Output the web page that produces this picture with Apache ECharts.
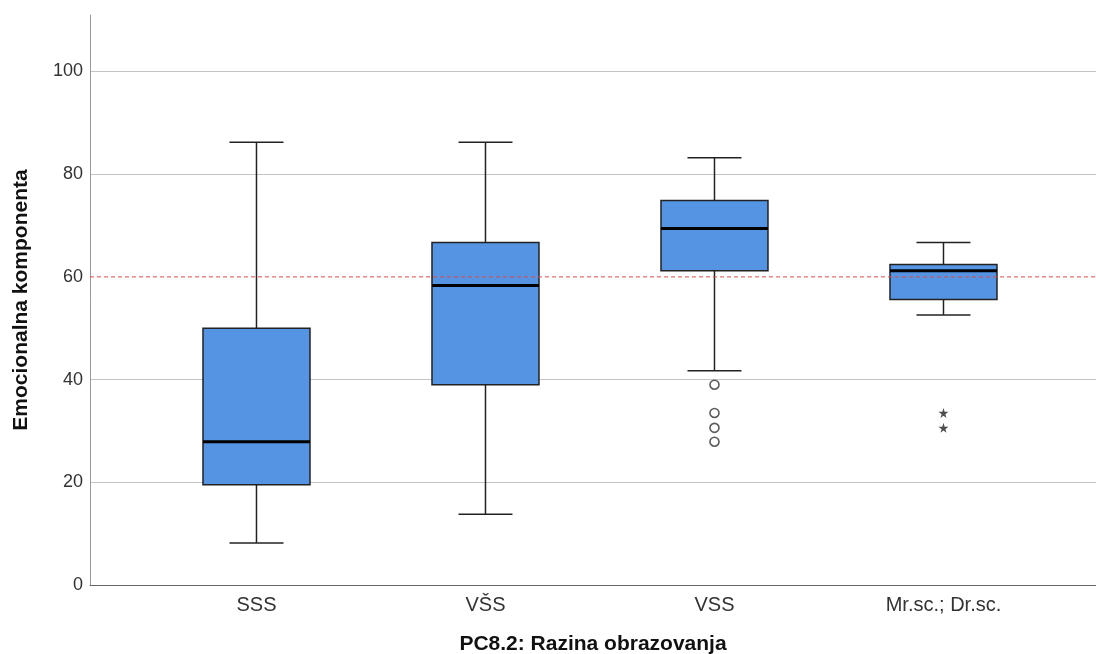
<!DOCTYPE html>
<html><head><meta charset="utf-8">
<script src="https://cdn.jsdelivr.net/npm/echarts@6/dist/echarts.min.js"></script>
<style>html,body{margin:0;padding:0;background:#fff}#c{width:1096px;height:654px}</style>
</head><body><div id="c"></div>
<script>
const categories = ['SSS', 'VŠS', 'VSS', 'Mr.sc.; Dr.sc.'];
// [min, Q1, median, Q3, max]
const boxStats = [
  [8.2, 19.5, 27.9, 50.0, 86.2],
  [13.8, 39.0, 58.3, 66.7, 86.2],
  [41.7, 61.2, 69.4, 74.9, 83.2],
  [52.6, 55.6, 61.2, 62.4, 66.7]
];
const outliers = [[2, 39.0], [2, 33.5], [2, 30.6], [2, 27.9]];
const extremes = [[3, 33.5], [3, 30.6]];
const referenceValue = 60;
const yTicks = [0, 20, 40, 60, 80, 100];

const X_MIN = -0.727, X_MAX = 3.666;
const boxData = boxStats.map((s, i) => [i].concat(s));
const star = 'path://M50,0 L61,35 L98,35 L68,57 L79,91 L50,70 L21,91 L32,57 L2,35 L39,35 Z';
const gridCol = '#c4c4c4';
const none = 'rgba(0,0,0,0)';

const chart = echarts.init(document.getElementById('c'));
chart.setOption({
  animation: false,
  backgroundColor: '#fff',
  grid: { left: 90, right: 0, top: 15, bottom: 69, outerBoundsMode: 'none', containLabel: false },
  xAxis: {
    type: 'value', min: X_MIN, max: X_MAX,
    name: 'PC8.2: Razina obrazovanja', nameLocation: 'middle', nameGap: 49,
    nameTextStyle: { fontFamily: 'Liberation Sans', fontSize: 21, fontWeight: 'bold', color: '#111' },
    axisLine: { show: true, onZero: false, lineStyle: { color: '#666', width: 1 } },
    axisTick: { show: false },
    splitLine: { show: false },
    axisLabel: {
      customValues: [0, 1, 2, 3],
      formatter: v => categories[Math.round(v)] || '',
      fontFamily: 'Liberation Sans', fontSize: 20, color: '#333', margin: 10
    }
  },
  yAxis: {
    type: 'value', min: 0, max: 111, interval: 20,
    name: 'Emocionalna komponenta', nameLocation: 'middle', nameGap: 58,
    nameTextStyle: { fontFamily: 'Liberation Sans', fontSize: 21, fontWeight: 'bold', color: '#111' },
    axisLine: { show: true, onZero: false, lineStyle: { color: '#999', width: 1 } },
    axisTick: { show: false },
    axisLabel: {
      customValues: yTicks,
      fontFamily: 'Liberation Sans', fontSize: 18, color: '#333', margin: 7
    },
    splitLine: { show: true, lineStyle: { color: [none, gridCol, gridCol, none, gridCol, gridCol, none], width: 1 } }
  },
  series: [
    {
      type: 'custom',
      data: boxData,
      z: 2,
      renderItem: function (params, api) {
        const x = api.value(0);
        const c = api.coord([x, api.value(1)]);
        const pMin = c[1];
        const pQ1 = api.coord([x, api.value(2)])[1];
        const pMed = api.coord([x, api.value(3)])[1];
        const pQ3 = api.coord([x, api.value(4)])[1];
        const pMax = api.coord([x, api.value(5)])[1];
        const cx = c[0];
        const hw = 53.5, cw = 27;
        const wl = { stroke: '#222', lineWidth: 1.5 };
        return {
          type: 'group',
          children: [
            { type: 'line', shape: { x1: cx, y1: pMax, x2: cx, y2: pQ3 }, style: wl },
            { type: 'line', shape: { x1: cx, y1: pQ1, x2: cx, y2: pMin }, style: wl },
            { type: 'line', shape: { x1: cx - cw, y1: pMax, x2: cx + cw, y2: pMax }, style: wl },
            { type: 'line', shape: { x1: cx - cw, y1: pMin, x2: cx + cw, y2: pMin }, style: wl },
            { type: 'rect', shape: { x: cx - hw, y: pQ3, width: hw * 2, height: pQ1 - pQ3 },
              style: { fill: '#5594e3', stroke: '#222', lineWidth: 1.5 } },
            { type: 'line', shape: { x1: cx - hw, y1: pMed, x2: cx + hw, y2: pMed },
              style: { stroke: '#000', lineWidth: 3 } }
          ]
        };
      }
    },
    {
      type: 'scatter', data: outliers, symbol: 'circle', symbolSize: 9, z: 3,
      itemStyle: { color: '#fff', borderColor: '#333', borderWidth: 1.6 }
    },
    {
      type: 'scatter', data: extremes, symbol: star, symbolSize: 10, z: 3,
      itemStyle: { color: '#222' }
    },
    {
      type: 'line', z: 5, symbol: 'none', silent: true,
      data: [[X_MIN, referenceValue], [X_MAX, referenceValue]],
      itemStyle: { color: '#e04a4a' },
      lineStyle: { color: '#e04a4a', type: [4, 3], width: 1 }
    }
  ]
});
</script></body></html>
